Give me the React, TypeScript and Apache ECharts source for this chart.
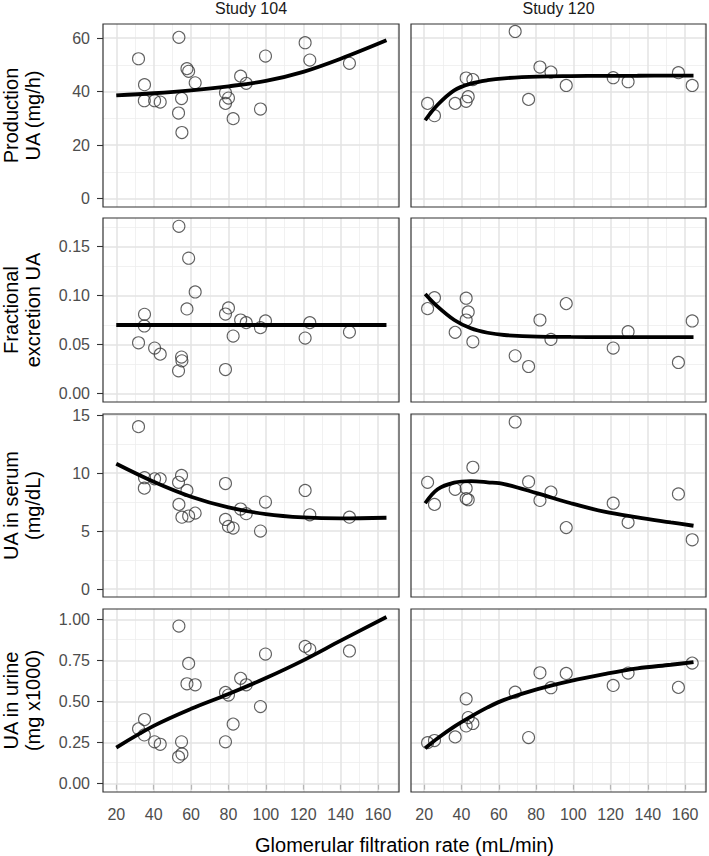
import React, { useEffect, useRef } from "react";
import * as echarts from "echarts";

// ---------- data ----------
const STUDIES = ["Study 104", "Study 120"];
const ROW_TITLES = [
  "Production\nUA (mg/h)",
  "Fractional\nexcretion UA",
  "UA in serum\n(mg/dL)",
  "UA in urine\n(mg x1000)",
];
const X_TITLE = "Glomerular filtration rate (mL/min)";

// GFR per patient
const GFR_104 = [31.9, 35.1, 35.0, 40.5, 43.5, 53.5, 54.9, 53.3, 55.1, 57.8, 58.7, 62.2, 78.4, 78.4, 80.0, 82.5, 86.5, 89.5, 97.1, 99.8, 121.0, 123.5, 144.7];
const GFR_120 = [21.8, 25.5, 36.6, 42.5, 46.1, 43.6, 42.5, 68.8, 76.0, 82.1, 88.0, 96.2, 121.4, 129.4, 156.4, 163.8];

// Study 104 measures
const PROD_104 = [52.3, 42.6, 36.6, 36.6, 36.1, 60.3, 37.4, 32.0, 24.7, 48.6, 47.6, 43.3, 39.6, 35.6, 37.6, 29.9, 45.8, 43.1, 33.5, 53.3, 58.3, 51.8, 50.6];
const FE_104 = [0.0518, 0.0808, 0.0689, 0.0464, 0.0402, 0.1705, 0.0372, 0.0232, 0.0334, 0.0863, 0.138, 0.1036, 0.0811, 0.0245, 0.0873, 0.0586, 0.075, 0.0723, 0.0672, 0.074, 0.0566, 0.0723, 0.0627];
const SERUM_104 = [14.0, 9.6, 8.7, 9.5, 9.5, 7.3, 9.8, 9.2, 6.2, 8.5, 6.3, 6.55, 9.1, 6.0, 5.4, 5.26, 6.9, 6.5, 5.0, 7.5, 8.5, 6.4, 6.2];
const URINE_104 = [0.334, 0.391, 0.297, 0.255, 0.24, 0.961, 0.255, 0.163, 0.181, 0.609, 0.733, 0.603, 0.556, 0.255, 0.54, 0.363, 0.642, 0.603, 0.47, 0.79, 0.837, 0.819, 0.809];

// Study 120 measures
const PROD_120 = [35.6, 31.0, 35.6, 45.1, 44.5, 38.1, 36.4, 62.5, 37.1, 49.2, 47.3, 42.3, 45.2, 43.7, 47.1, 42.3];
const FE_120 = [0.0866, 0.0978, 0.0624, 0.0972, 0.0528, 0.0832, 0.075, 0.0385, 0.0276, 0.075, 0.0552, 0.0917, 0.0464, 0.0631, 0.0317, 0.074];
const SERUM_120 = [9.2, 7.3, 8.6, 8.7, 10.5, 7.7, 7.8, 14.4, 9.25, 7.64, 8.36, 5.3, 7.4, 5.75, 8.2, 4.25];
const URINE_120 = [0.25, 0.263, 0.285, 0.517, 0.367, 0.403, 0.352, 0.558, 0.281, 0.676, 0.585, 0.672, 0.599, 0.674, 0.587, 0.735];

// fitted curves
const FIT_X_104 = [20, 40, 60, 80, 100, 120, 140, 164.5];
const FIT_PROD_104 = [38.6, 39.4, 40.5, 42.0, 44.0, 47.4, 52.3, 59.2];
const FIT_FE_104 = [0.0699, 0.0699, 0.0699, 0.0699, 0.0699, 0.0699, 0.0699, 0.0699];
const FIT_SERUM_104 = [10.8, 9.25, 7.96, 7.04, 6.47, 6.18, 6.09, 6.15];
const FIT_URINE_104 = [0.22, 0.352, 0.456, 0.546, 0.644, 0.752, 0.872, 1.016];

const FIT_X_120 = [20.5, 27.2, 36.1, 45, 54, 62.9, 80.8, 98.7, 116.6, 134.4, 152.3, 164.5];
const FIT_PROD_120 = [29.3, 35.1, 40.5, 43.0, 44.3, 45.0, 45.6, 45.8, 45.9, 45.95, 46.0, 46.0];
const FIT_FE_120 = [0.1016, 0.0886, 0.075, 0.0665, 0.062, 0.0597, 0.058, 0.0577, 0.0576, 0.0576, 0.0576, 0.0576];
const FIT_SERUM_120 = [7.4, 8.6, 9.17, 9.3, 9.2, 9.05, 8.25, 7.4, 6.67, 6.18, 5.75, 5.46];
const FIT_URINE_120 = [0.216, 0.277, 0.348, 0.409, 0.465, 0.511, 0.576, 0.627, 0.668, 0.703, 0.725, 0.741];

// axes
const X_LIMITS = [12.9, 171.2];
const X_MAJOR = [20, 40, 60, 80, 100, 120, 140, 160];
const X_MINOR = [30, 50, 70, 90, 110, 130, 150, 170];
const Y_LIMITS = [
  [-3.15, 65.3],
  [-0.0086, 0.179],
  [-0.68, 15.09],
  [-0.051, 1.065],
];
const Y_MAJOR = [
  [0, 20, 40, 60],
  [0, 0.05, 0.1, 0.15],
  [0, 5, 10, 15],
  [0, 0.25, 0.5, 0.75, 1.0],
];
const Y_MINOR = [
  [10, 30, 50],
  [0.025, 0.075, 0.125, 0.175],
  [2.5, 7.5, 12.5],
  [0.125, 0.375, 0.625, 0.875],
];
const Y_DECIMALS = [0, 2, 0, 2];

// ---------- layout ----------
const FONT = "'Liberation Sans', Arial, Helvetica, sans-serif";
const COL_LEFT = [103, 411];
const COL_W = [296, 295];
const ROW_TOP = [24, 218, 414, 609];
const ROW_H = [183, 184, 183, 183];

export default function App() {
  const ref = useRef<HTMLDivElement>(null);

  useEffect(() => {
    if (!ref.current) return;
    const chart = echarts.init(ref.current, undefined, { renderer: "svg" });

    const gfr = [GFR_104, GFR_120];
    const measures = [
      [PROD_104, PROD_120],
      [FE_104, FE_120],
      [SERUM_104, SERUM_120],
      [URINE_104, URINE_120],
    ];
    const fitX = [FIT_X_104, FIT_X_120];
    const fits = [
      [FIT_PROD_104, FIT_PROD_120],
      [FIT_FE_104, FIT_FE_120],
      [FIT_SERUM_104, FIT_SERUM_120],
      [FIT_URINE_104, FIT_URINE_120],
    ];

    const grids: any[] = [];
    const xAxes: any[] = [];
    const yAxes: any[] = [];
    const series: any[] = [];
    const graphics: any[] = [];

    const majorStyle = { color: "#E3E3E3", width: 1.5, type: "solid" };
    const minorStyle = { color: "#EEEEEE", width: 0.8, type: "solid" };

    for (let r = 0; r < 4; r++) {
      for (let c = 0; c < 2; c++) {
        const i = r * 2 + c;
        grids.push({
          left: COL_LEFT[c],
          top: ROW_TOP[r],
          width: COL_W[c],
          height: ROW_H[r],
          containLabel: false,
          show: false,
        });
        const bottomRow = r === 3;
        const leftCol = c === 0;
        xAxes.push({
          type: "value",
          gridIndex: i,
          min: X_LIMITS[0],
          max: X_LIMITS[1],
          splitNumber: 8,
          axisLine: { show: false },
          splitLine: { show: false },
          minorSplitLine: { show: false },
          axisTick: {
            show: bottomRow,
            length: 6,
            inside: false,
            customValues: X_MAJOR,
            lineStyle: { color: "#333333", width: 1.1 },
          },
          axisLabel: {
            show: bottomRow,
            customValues: X_MAJOR,
            margin: 14,
            fontSize: 16,
            fontFamily: FONT,
            color: "#4D4D4D",
            formatter: (v: number) => (X_MAJOR.some((t) => Math.abs(t - v) < 1e-6) ? String(v) : ""),
          },
        });
        const dec = Y_DECIMALS[r];
        const ym = Y_MAJOR[r];
        yAxes.push({
          type: "value",
          gridIndex: i,
          min: Y_LIMITS[r][0],
          max: Y_LIMITS[r][1],
          axisLine: { show: false },
          splitLine: { show: false },
          minorSplitLine: { show: false },
          axisTick: {
            show: leftCol,
            length: 6,
            inside: false,
            customValues: ym,
            lineStyle: { color: "#333333", width: 1.1 },
          },
          axisLabel: {
            show: leftCol,
            customValues: ym,
            margin: 13,
            fontSize: 16,
            fontFamily: FONT,
            color: "#4D4D4D",
            formatter: (v: number) =>
              ym.some((t) => Math.abs(t - v) < 1e-9) ? v.toFixed(dec) : "",
          },
        });

        const gridLines: any[] = [];
        X_MINOR.forEach((v) => gridLines.push({ xAxis: v, lineStyle: minorStyle }));
        Y_MINOR[r].forEach((v) => gridLines.push({ yAxis: v, lineStyle: minorStyle }));
        X_MAJOR.forEach((v) => gridLines.push({ xAxis: v, lineStyle: majorStyle }));
        ym.forEach((v) => gridLines.push({ yAxis: v, lineStyle: majorStyle }));

        const xs = gfr[c];
        const ys = measures[r][c];
        series.push({
          type: "scatter",
          xAxisIndex: i,
          yAxisIndex: i,
          z: 3,
          symbol: "circle",
          symbolSize: 12,
          itemStyle: { color: "rgba(0,0,0,0)", borderColor: "#3a3a3a", borderWidth: 1.1 },
          data: xs.map((x, k) => [x, ys[k]]),
          silent: true,
          markLine: {
            silent: true,
            z: 1,
            symbol: ["none", "none"],
            label: { show: false },
            emphasis: { disabled: true },
            animation: false,
            data: gridLines,
          },
        });
        const fx = fitX[c];
        const fy = fits[r][c];
        series.push({
          type: "line",
          xAxisIndex: i,
          yAxisIndex: i,
          z: 4,
          smooth: 0.35,
          showSymbol: false,
          symbol: "none",
          lineStyle: { color: "#000000", width: 3.8 },
          data: fx.map((x, k) => [x, fy[k]]),
          silent: true,
        });

        graphics.push({
          type: "rect",
          z: 100,
          silent: true,
          shape: { x: COL_LEFT[c], y: ROW_TOP[r], width: COL_W[c], height: ROW_H[r] },
          style: { fill: "none", stroke: "#333333", lineWidth: 1.2 },
        });
      }
    }

    // strip titles
    STUDIES.forEach((s, c) => {
      graphics.push({
        type: "text",
        z: 100,
        x: COL_LEFT[c] + COL_W[c] / 2,
        y: 8,
        style: {
          text: s,
          fill: "#1A1A1A",
          fontSize: 16,
          fontFamily: FONT,
          align: "center",
          verticalAlign: "middle",
          textAlign: "center",
          textVerticalAlign: "middle",
        },
      });
    });

    // y titles
    ROW_TITLES.forEach((t, r) => {
      graphics.push({
        type: "text",
        z: 100,
        x: 22,
        y: ROW_TOP[r] + ROW_H[r] / 2,
        rotation: Math.PI / 2,
        style: {
          text: t,
          fill: "#000000",
          fontSize: 20,
          fontFamily: FONT,
          lineHeight: 22,
          align: "center",
          verticalAlign: "middle",
          textAlign: "center",
          textVerticalAlign: "middle",
        },
      });
    });

    // x title
    graphics.push({
      type: "text",
      z: 100,
      x: (COL_LEFT[0] + COL_LEFT[1] + COL_W[1]) / 2,
      y: 845,
      style: {
        text: X_TITLE,
        fill: "#000000",
        fontSize: 20,
        fontFamily: FONT,
        align: "center",
        verticalAlign: "middle",
        textAlign: "center",
        textVerticalAlign: "middle",
      },
    });

    chart.setOption({
      animation: false,
      backgroundColor: "#ffffff",
      grid: grids,
      xAxis: xAxes,
      yAxis: yAxes,
      series,
      graphic: graphics,
    });

    return () => {
      chart.dispose();
    };
  }, []);

  return (
    <div
      ref={ref}
      style={{ position: "absolute", left: 0, top: 0, width: 709, height: 856 }}
    />
  );
}
